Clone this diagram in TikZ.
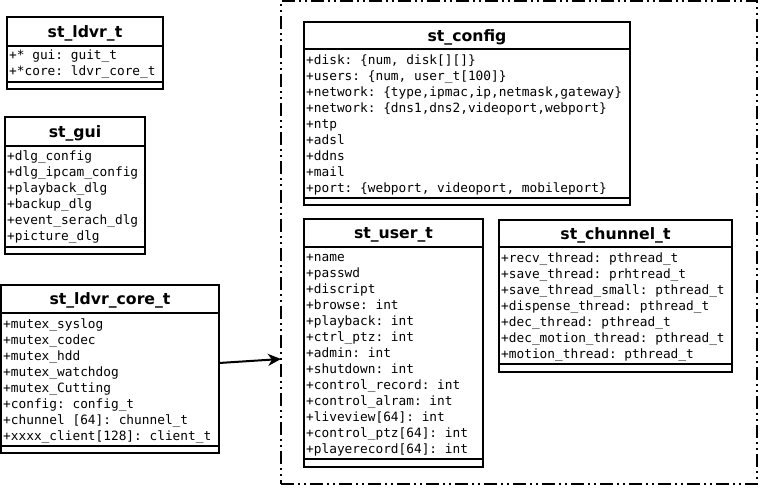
\documentclass[tikz,border=0pt]{standalone}
\usepackage{fontspec}
\setmonofont{DejaVu Sans Mono}
\newfontfamily\umltitlefont{DejaVu Sans}
\usetikzlibrary{arrows.meta}
\tikzset{
  classbox/.style={draw, line width=2pt, inner sep=0pt, outer sep=0pt, anchor=north west},
  sepline/.style={line width=2pt},
  classtitle/.style={font=\umltitlefont\bfseries\fontsize{15.7}{18}\selectfont, anchor=base, inner sep=0pt},
  attr/.style={font=\ttfamily\fontsize{12.8}{16}\selectfont, anchor=base west, inner sep=0pt},
  groupframe/.style={draw, line width=2pt, inner sep=0pt, outer sep=0pt, anchor=north west,
    dash pattern=on 13pt off 4pt on 2pt off 4pt on 2pt off 4pt},
  link/.style={line width=2pt, -{Stealth[length=13pt,width=12pt,inset=4pt]}}
}
% name, left, top, right, sep1, sep2, bottom, title
\newcommand\umlclass[8]{%
  \node[classbox, minimum width=#4pt-#2pt, minimum height=#7pt-#3pt] (#1) at (#2,#3) {};
  \draw[sepline] (#1.west |- 0,#5) -- (#1.east |- 0,#5);
  \draw[sepline] (#1.west |- 0,#6) -- (#1.east |- 0,#6);
  \node[classtitle] (#1-title) at ({(#2+#4)/2},{(#3+#5)/2+5.5}) {#8};
}
% name, left, first baseline, list
\newcommand\umlattrs[4]{%
  \foreach \t [count=\i from 0] in {#4} {
    \node[attr] (#1-a\i) at ({#2+2},{#3+16*\i}) {\t};
  }
}
\begin{document}
\begin{tikzpicture}[x=1pt,y=-1pt]
\useasboundingbox (0,0) rectangle (760,488);

\node[groupframe, minimum width=476pt, minimum height=483pt] (group) at (281,1) {};

\umlclass{ldvr}{7}{17}{163}{46}{82}{89}{st\_ldvr\_t}
\umlattrs{ldvr}{7}{59.5}{{+* gui: guit\_t},{+*core: ldvr\_core\_t}}

\umlclass{gui}{5}{117}{145}{146}{247}{254}{st\_gui}
\umlattrs{gui}{5}{160}{{+dlg\_config},{+dlg\_ipcam\_config},{+playback\_dlg},{+backup\_dlg},{+event\_serach\_dlg},{+picture\_dlg}}

\umlclass{core}{1}{285}{219}{313}{446}{453}{st\_ldvr\_core\_t}
\umlattrs{core}{1}{328.5}{{+mutex\_syslog},{+mutex\_codec},{+mutex\_hdd},{+mutex\_watchdog},{+mutex\_Cutting},{+config: config\_t},{+chunnel [64]: chunnel\_t},{+xxxx\_client[128]: client\_t}}

\umlclass{config}{304}{22}{630}{49}{198}{205}{st\_config}
\umlattrs{config}{304}{64}{{+disk: \{num, disk[][]\}},{+users: \{num, user\_t[100]\}},{+network: \{type,ipmac,ip,netmask,gateway\}},{+network: \{dns1,dns2,videoport,webport\}},{+ntp},{+adsl},{+ddns},{+mail},{+port: \{webport, videoport, mobileport\}}}

\umlclass{user}{304}{219}{483}{247}{459}{467}{st\_user\_t}
\umlattrs{user}{304}{261}{{+name},{+passwd},{+discript},{+browse: int},{+playback: int},{+ctrl\_ptz: int},{+admin: int},{+shutdown: int},{+control\_record: int},{+control\_alram: int},{+liveview[64]: int},{+control\_ptz[64]: int},{+playerecord[64]: int}}

\umlclass{chunnel}{499}{220}{732}{247}{364}{372}{st\_chunnel\_t}
\umlattrs{chunnel}{499}{262}{{+recv\_thread: pthread\_t},{+save\_thread: prhtread\_t},{+save\_thread\_small: pthread\_t},{+dispense\_thread: pthread\_t},{+dec\_thread: pthread\_t},{+dec\_motion\_thread: pthread\_t},{+motion\_thread: pthread\_t}}

\draw[link] (core.east |- 0,363) -- (group.west |- 0,359);
\end{tikzpicture}
\end{document}
